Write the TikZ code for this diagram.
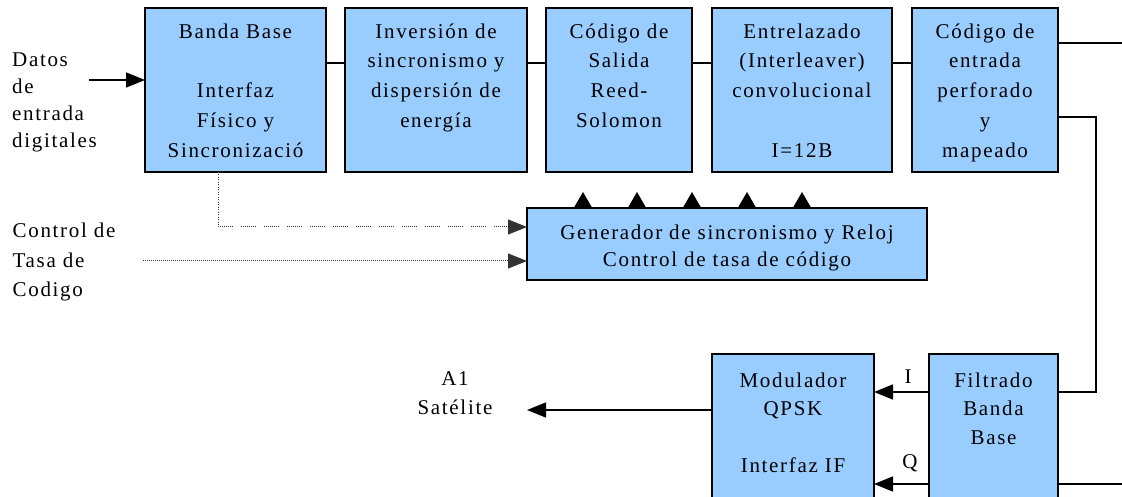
\documentclass[tikz,border=0pt]{standalone}
\usepackage{fontspec}
\setmainfont{Liberation Serif}[LetterSpace=8]
\usetikzlibrary{arrows.meta}
\definecolor{boxblue}{RGB}{153,204,255}
\begin{document}
\begin{tikzpicture}[x=1pt,y=-1pt,
  font=\fontsize{21}{29.75}\selectfont,
  blk/.style={draw=black, line width=1.8pt, fill=boxblue, inner sep=0pt, outer sep=0pt},
  toptext/.style={anchor=north, align=center, inner sep=0pt, yshift=-9pt},
  bottext/.style={anchor=north, align=center, inner sep=0pt, yshift=-13pt, font=\fontsize{21}{28.5}\selectfont},
  conn/.style={draw=black, line width=1.5pt},
  arr/.style={-{Triangle[length=19pt,width=15pt]}},
  upa/.style={-{Triangle[length=15pt,width=17pt]}, line width=1.5pt},
  dotv/.style={draw=black!80, line width=1pt, dash pattern=on 1pt off 1.5pt},
  dotg/.style={draw=black!80, line width=1pt, dash pattern=on 1pt off 1pt on 1pt off 1pt on 1pt off 1pt on 1pt off 1pt on 1pt off 1pt on 1pt off 1pt on 1pt off 1pt on 1pt off 8pt},
  dotf/.style={draw=black!80, line width=1pt, dash pattern=on 1pt off 1pt},
  plain/.style={inner sep=0pt, align=left}
]
\useasboundingbox (0,0) rectangle (1122,497);
\clip (0,0) rectangle (1122,497);

% row coordinates
\coordinate (r63) at (0,63);
\coordinate (r43) at (1122,43);
\coordinate (v) at (1096,117);
\coordinate (rI) at (0,392);
\coordinate (rQ) at (0,484);
\coordinate (eQ) at (1122,484);
\coordinate (din) at (89,80);
\coordinate (dc) at (218,227);
\coordinate (tc) at (143,261);
\coordinate (tipS) at (527,410);

% top boxes
\node[blk, minimum width=181pt, minimum height=164pt] (b1) at (235.5,90) {};
\node[blk, minimum width=182pt, minimum height=164pt] (b2) at (436,90) {};
\node[blk, minimum width=146pt, minimum height=164pt] (b3) at (619,90) {};
\node[blk, minimum width=180pt, minimum height=164pt] (b4) at (802,90) {};
\node[blk, minimum width=146pt, minimum height=164pt] (b5) at (985,90) {};

\node[toptext] (t1) at (b1.north) {\strut Banda Base\\\strut\\Interfaz\\Físico y\\Sincronizació};
\node[toptext] (t2) at (b2.north) {\strut Inversión de\\sincronismo y\\dispersión de\\energía};
\node[toptext] (t3) at (b3.north) {\strut Código de\\Salida\\Reed-\\Solomon};
\node[toptext] (t4) at (b4.north) {\strut Entrelazado\\(Interleaver)\\convolucional\\\strut\\I=12B};
\node[toptext] (t5) at (b5.north) {\strut Código de\\entrada\\perforado\\y\\mapeado};

% generator
\node[blk, minimum width=400pt, minimum height=72pt] (gen) at (727,244) {};
\node[anchor=north, align=center, inner sep=0pt, font=\fontsize{21}{27}\selectfont] (gt) at (727,220.6)
  {\strut Generador de sincronismo y Reloj\\Control de tasa de código};

% bottom boxes
\node[blk, minimum width=162pt, minimum height=170pt] (m) at (793,439) {};
\node[blk, minimum width=129pt, minimum height=170pt] (f) at (993.5,439) {};
\node[bottext] (mt) at (m.north) {\strut Modulador\\QPSK\\\strut\\Interfaz IF};
\node[bottext] (ft) at (f.north) {\strut Filtrado\\Banda\\Base};

% side texts
\node[plain, anchor=north west, font=\fontsize{21}{27}\selectfont] (datos) at (12,47.6)
  {\strut Datos\\de\\entrada\\digitales};
\node[plain, anchor=north west, font=\fontsize{21}{29.5}\selectfont] (ctrl) at (12.5,217)
  {\strut Control de\\Tasa de\\Codigo};
\node[inner sep=0pt, align=center, anchor=north, font=\fontsize{21}{29}\selectfont] (sat) at (455,365)
  {\strut A1\\Satélite};
\node (li) at (908,377) {I};
\node (lq) at (910,463) {Q};

% connectors between top boxes
\draw[conn] (b1.east |- r63) -- (b2.west |- r63);
\draw[conn] (b2.east |- r63) -- (b3.west |- r63);
\draw[conn] (b3.east |- r63) -- (b4.west |- r63);
\draw[conn] (b4.east |- r63) -- (b5.west |- r63);
\draw[conn] (b5.east |- r43) -- (r43);
\draw[conn] (b5.east |- v) -- (v) |- (f.east |- rI);

% input
\draw[conn, arr] (din) -- (b1.west |- din);

% dotted control lines
\draw[dotv] (b1.south -| dc) -- (dc);
\draw[dotg, arr] (dc) -- (gen.west |- dc);
\draw[dotf, arr] (tc) -- (gen.west |- tc);

% up arrows from generator
\foreach \dx in {56,110,165,220,275}
  \draw[upa] ([xshift=\dx pt]gen.north west) -- ++(0,-16);

% I / Q
\draw[conn, arr] (f.west |- rI) -- (m.east |- rI);
\draw[conn, arr] (f.west |- rQ) -- (m.east |- rQ);
\draw[conn] (f.east |- rQ) -- (eQ);

% output
\draw[conn, arr] (m.west |- tipS) -- (tipS);
\end{tikzpicture}
\end{document}
